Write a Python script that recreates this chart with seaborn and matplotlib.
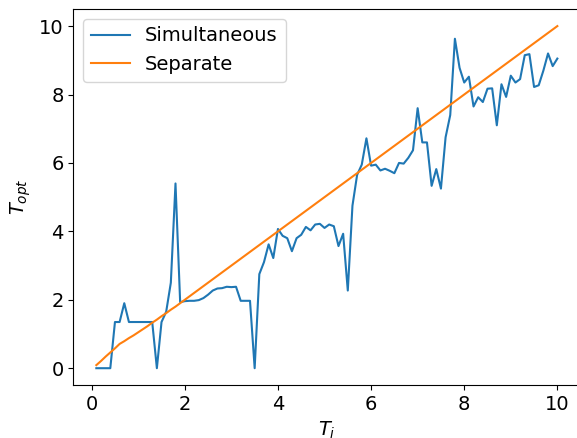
import matplotlib
matplotlib.use("Agg")
import matplotlib.pyplot as plt
import seaborn as sns
import pandas as pd

t_i = [0.1, 0.2, 0.3, 0.4, 0.5, 0.6, 0.7, 0.8, 0.9, 1.0,
       1.1, 1.2, 1.3, 1.4, 1.5, 1.6, 1.7, 1.8, 1.9, 2.0,
       2.1, 2.2, 2.3, 2.4, 2.5, 2.6, 2.7, 2.8, 2.9, 3.0,
       3.1, 3.2, 3.3, 3.4, 3.5, 3.6, 3.7, 3.8, 3.9, 4.0,
       4.1, 4.2, 4.3, 4.4, 4.5, 4.6, 4.7, 4.8, 4.9, 5.0,
       5.1, 5.2, 5.3, 5.4, 5.5, 5.6, 5.7, 5.8, 5.9, 6.0,
       6.1, 6.2, 6.3, 6.4, 6.5, 6.6, 6.7, 6.8, 6.9, 7.0,
       7.1, 7.2, 7.3, 7.4, 7.5, 7.6, 7.7, 7.8, 7.9, 8.0,
       8.1, 8.2, 8.3, 8.4, 8.5, 8.6, 8.7, 8.8, 8.9, 9.0,
       9.1, 9.2, 9.3, 9.4, 9.5, 9.6, 9.7, 9.8, 9.9, 10.0]

simultaneous = [0.0, 0.0, 0.0, 0.0, 1.35, 1.35, 1.9, 1.35, 1.35, 1.35,
                1.35, 1.35, 1.35, 0.0, 1.35, 1.65, 2.5, 5.4, 1.93, 1.96,
                1.97, 1.97, 1.99, 2.05, 2.15, 2.27, 2.33, 2.34, 2.38, 2.37,
                2.38, 1.97, 1.97, 1.97, 0.0, 2.75, 3.1, 3.62, 3.22, 4.07,
                3.87, 3.8, 3.42, 3.8, 3.9, 4.13, 4.03, 4.2, 4.22, 4.1,
                4.2, 4.15, 3.57, 3.93, 2.27, 4.75, 5.65, 5.95, 6.72, 5.92,
                5.95, 5.78, 5.83, 5.77, 5.7, 6.0, 5.98, 6.15, 6.37, 7.6,
                6.6, 6.6, 5.33, 5.82, 5.25, 6.75, 7.4, 9.63, 8.78, 8.35,
                8.52, 7.65, 7.92, 7.78, 8.17, 8.18, 7.1, 8.3, 7.93, 8.55,
                8.35, 8.45, 9.15, 9.18, 8.22, 8.27, 8.7, 9.2, 8.83, 9.05]

separate = [0.09, 0.21, 0.34, 0.46, 0.58, 0.71, 0.79, 0.88, 0.96, 1.05,
            1.14, 1.23, 1.33, 1.42, 1.52, 1.61, 1.71, 1.8, 1.9, 2.0,
            2.1, 2.2, 2.3, 2.4, 2.5, 2.6, 2.7, 2.8, 2.9, 3.0,
            3.1, 3.2, 3.3, 3.4, 3.5, 3.6, 3.7, 3.8, 3.9, 4.0,
            4.1, 4.2, 4.3, 4.4, 4.5, 4.6, 4.7, 4.8, 4.9, 5.0,
            5.1, 5.2, 5.3, 5.4, 5.5, 5.6, 5.7, 5.8, 5.9, 6.0,
            6.1, 6.2, 6.3, 6.4, 6.5, 6.6, 6.7, 6.8, 6.9, 7.0,
            7.1, 7.2, 7.3, 7.4, 7.5, 7.6, 7.7, 7.8, 7.9, 8.0,
            8.1, 8.2, 8.3, 8.4, 8.5, 8.6, 8.7, 8.8, 8.9, 9.0,
            9.1, 9.2, 9.3, 9.4, 9.5, 9.6, 9.7, 9.8, 9.9, 10.0]

series_names = ["Simultaneous", "Separate"]
colors = ["#1f77b4", "#ff7f0e"]

df = pd.concat([
    pd.DataFrame({"Ti": t_i, "Topt": simultaneous, "method": series_names[0]}),
    pd.DataFrame({"Ti": t_i, "Topt": separate, "method": series_names[1]}),
], ignore_index=True)

fig = plt.figure(figsize=(5.77, 4.38), dpi=100)
ax = fig.add_axes([0.1270, 0.1203, 0.8789, 0.8592])

sns.lineplot(data=df, x="Ti", y="Topt", hue="method", palette=colors,
             hue_order=series_names, linewidth=1.5, ax=ax, estimator=None,
             sort=False)

ax.set_xticks([0, 2, 4, 6, 8, 10])
ax.set_yticks([0, 2, 4, 6, 8, 10])
ax.tick_params(labelsize=14)
ax.set_xlabel("$T_i$", fontsize=14)
ax.set_ylabel("$T_{opt}$", fontsize=14)

handles, labels = ax.get_legend_handles_labels()
ax.legend(handles, labels, loc="upper left", fontsize=14)

fig.savefig("out.png", dpi=100)
